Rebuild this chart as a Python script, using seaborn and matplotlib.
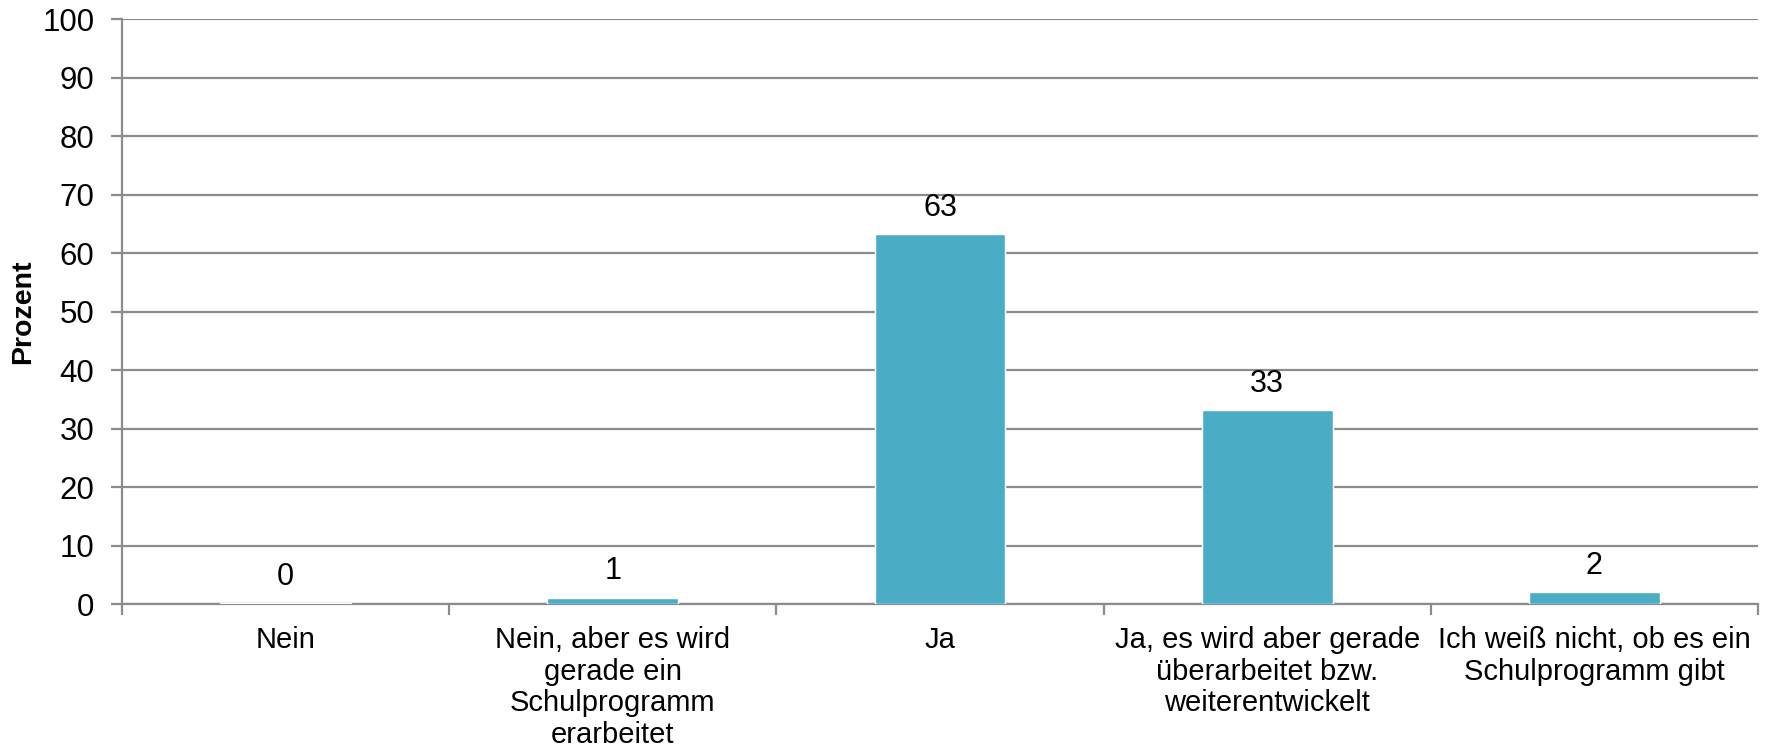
import matplotlib
matplotlib.use("Agg")
import matplotlib.pyplot as plt
import seaborn as sns
import numpy as np

# Data
categories = [
    "Nein",
    "Nein, aber es wird\ngerade ein\nSchulprogramm\nerarbeitet",
    "Ja",
    "Ja, es wird aber gerade\nüberarbeitet bzw.\nweiterentwickelt",
    "Ich weiß nicht, ob es ein\nSchulprogramm gibt",
]
values = [0.2, 1.1, 63.3, 33.2, 2.0]
value_labels = ["0", "1", "63", "33", "2"]
y_ticks = list(range(0, 101, 10))

sns.set_style("white")
plt.rcParams["font.family"] = ["Liberation Sans", "DejaVu Sans"]
plt.rcParams["text.color"] = "black"
plt.rcParams["xtick.labelcolor"] = "black"
plt.rcParams["ytick.labelcolor"] = "black"

fig = plt.figure(figsize=(17.69, 7.55), dpi=100)
ax = fig.add_axes([0.069, 0.2, 0.9248, 0.7748])

sns.barplot(x=categories, y=values, color="#4BACC6", width=0.4,
            saturation=1, ax=ax, zorder=3)

# Value labels above bars
ax.bar_label(ax.containers[0], labels=value_labels, padding=8, fontsize=22,
             color="black")

ax.set_ylim(0, 100)
ax.set_xlim(-0.5, len(categories) - 0.5)
ax.set_yticks(y_ticks)
ax.yaxis.grid(True, color="#8c8c8c", linewidth=1.6, zorder=0)
ax.set_axisbelow(True)

for side in ["top", "right"]:
    ax.spines[side].set_visible(False)
for side in ["left", "bottom"]:
    ax.spines[side].set_color("#8c8c8c")
    ax.spines[side].set_linewidth(1.6)

ax.tick_params(axis="y", length=8, width=1.6, color="#8c8c8c", pad=12,
               labelsize=22.5, left=True)
ax.tick_params(axis="x", length=0, pad=16, labelsize=21)
for lab in ax.get_xticklabels():
    lab.set_linespacing(1.16)

# boundary ticks between categories
ax.set_xticks(np.arange(-0.5, len(categories), 1.0), minor=True)
ax.tick_params(axis="x", which="minor", length=8, width=1.6, color="#8c8c8c",
               bottom=True)

ax.set_xlabel("")
ax.set_ylabel("Prozent", fontsize=20.5, fontweight="bold", labelpad=4,
              color="black")

fig.savefig("out.png", dpi=100)
